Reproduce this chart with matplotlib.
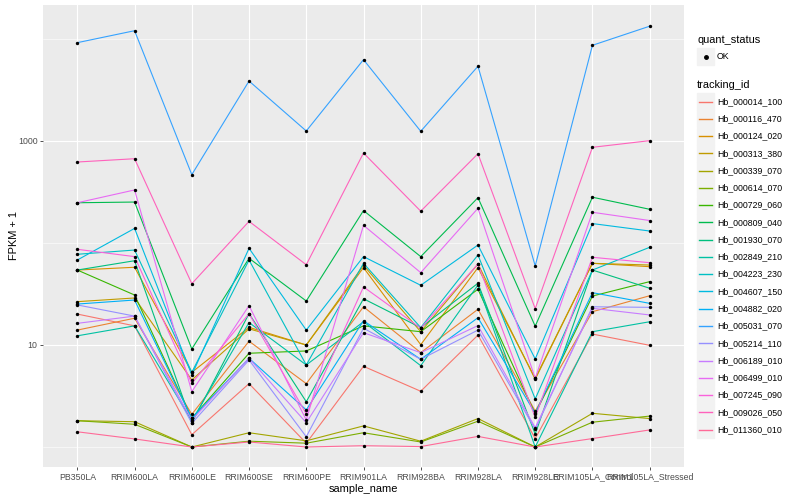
import numpy as np
import matplotlib
matplotlib.use('Agg')
import matplotlib.pyplot as plt
from matplotlib.patches import Rectangle
from matplotlib.lines import Line2D
from matplotlib.ticker import FixedLocator, NullFormatter


# sample names along the x axis
samples = ['PB350LA', 'RRIM600LA', 'RRIM600LE', 'RRIM600SE', 'RRIM600PE',
           'RRIM901LA', 'RRIM928BA', 'RRIM928LA', 'RRIM928LE',
           'RRIM105LA_Control', 'RRIM105LA_Stressed']

tracking_ids = ['Hb_000014_100', 'Hb_000116_470', 'Hb_000124_020',
                'Hb_000313_380', 'Hb_000339_070', 'Hb_000614_070',
                'Hb_000729_060', 'Hb_000809_040', 'Hb_001930_070',
                'Hb_002849_210', 'Hb_004223_230', 'Hb_004607_150',
                'Hb_004882_020', 'Hb_005031_070', 'Hb_005214_110',
                'Hb_006189_010', 'Hb_006499_010', 'Hb_007245_090',
                'Hb_009026_050', 'Hb_011360_010']

# FPKM + 1 (one list per gene, same order as samples)
hb_000014_100 = [20.1, 15.4, 1.32, 4.18, 1.09, 6.18, 3.52, 12.5, 1.21, 12.8, 9.93]
hb_000116_470 = [14.0, 18.3, 2.09, 10.9, 4.18, 23.7, 8.41, 22.4, 2.25, 21.2, 30.4]
hb_000124_020 = [54.3, 57.8, 5.40, 14.9, 10.0, 57.3, 10.07, 57.3, 4.72, 63.2, 58.6]
hb_000313_380 = [26.6, 28.9, 4.54, 14.4, 10.0, 60.4, 13.5, 62.2, 4.61, 63.2, 60.8]
hb_000339_070 = [1.81, 1.77, 1.0, 1.38, 1.15, 1.61, 1.14, 1.90, 1.0, 2.14, 1.90]
hb_000614_070 = [1.81, 1.67, 1.0, 1.14, 1.09, 1.38, 1.12, 1.79, 1.0, 1.75, 2.01]
hb_000729_060 = [54.3, 30.9, 1.91, 8.30, 8.74, 15.4, 13.5, 35.2, 2.11, 30.2, 41.8]
hb_000809_040 = [248, 252, 9.14, 70.8, 27.0, 208, 73.5, 278, 15.3, 281, 214]
hb_001930_070 = [54.3, 67.0, 1.72, 20.3, 2.78, 28.4, 14.8, 40.3, 1.34, 54.3, 36.0]
hb_002849_210 = [12.3, 15.4, 1.81, 16.6, 6.37, 16.9, 6.27, 38.7, 1.0, 13.5, 16.9]
hb_004223_230 = [77.5, 85.3, 5.40, 68.1, 6.37, 63.2, 14.8, 76.3, 2.96, 54.3, 90.7]
hb_004607_150 = [68.1, 139, 5.08, 88.7, 14.0, 73.5, 38.5, 95.5, 7.29, 155, 131]
hb_004882_020 = [25.2, 27.6, 1.91, 7.41, 2.31, 17.3, 7.24, 18.5, 2.14, 32.6, 25.6]
hb_005031_070 = [9200, 12050, 468, 3870, 1253, 6270, 1245, 5400, 59.6, 8670, 13340]
hb_005214_110 = [24.7, 19.2, 1.71, 7.13, 1.26, 14.6, 7.24, 14.0, 1.49, 23.7, 23.4]
hb_006189_010 = [16.3, 19.2, 1.84, 7.41, 1.73, 13.2, 8.41, 15.5, 1.55, 22.9, 19.7]
hb_006499_010 = [248, 331, 3.49, 24.3, 1.84, 149, 51.2, 219, 4.72, 200, 166]
hb_007245_090 = [86.7, 73.5, 4.21, 20.3, 2.11, 37.1, 14.6, 62.2, 1.95, 72.4, 64.1]
hb_009026_050 = [622, 670, 39.9, 163, 61.2, 762, 205, 750, 22.7, 867, 1007]
hb_011360_010 = [1.41, 1.20, 1.0, 1.12, 1.0, 1.03, 1.01, 1.27, 1.0, 1.21, 1.47]

fpkm = [hb_000014_100, hb_000116_470, hb_000124_020, hb_000313_380,
        hb_000339_070, hb_000614_070, hb_000729_060, hb_000809_040,
        hb_001930_070, hb_002849_210, hb_004223_230, hb_004607_150,
        hb_004882_020, hb_005031_070, hb_005214_110, hb_006189_010,
        hb_006499_010, hb_007245_090, hb_009026_050, hb_011360_010]


def hue_pal(n, c=100, l=65):
    '''
    ggplot style hue palette, polar LUV -> sRGB
    '''
    hues = np.linspace(15, 375, n + 1)[:n]
    xn, yn, zn = 95.047, 100.0, 108.883
    un = 4 * xn / (xn + 15 * yn + 3 * zn)
    vn = 9 * yn / (xn + 15 * yn + 3 * zn)
    m = np.array([[3.240479, -1.537150, -0.498535],
                  [-0.969256, 1.875992, 0.041556],
                  [0.055648, -0.204043, 1.057311]])
    out = []
    for h in hues:
        u_ = c * np.cos(np.radians(h))
        v_ = c * np.sin(np.radians(h))
        y = yn * ((l + 16) / 116) ** 3
        u = u_ / (13 * l) + un
        v = v_ / (13 * l) + vn
        x = 9 * y * u / (4 * v)
        z = -x / 3 - 5 * y + 3 * y / v
        rgb = m @ (np.array([x, y, z]) / 100)
        rgb = np.where(rgb > 0.0031308,
                       1.055 * np.abs(rgb) ** (1 / 2.4) - 0.055, 12.92 * rgb)
        out.append(tuple(np.clip(rgb, 0, 1)))
    return out


colors = hue_pal(len(tracking_ids))

plt.rcParams['font.family'] = ['Liberation Sans', 'DejaVu Sans']

W, H = 800, 500
fig = plt.figure(figsize=(8, 5), dpi=100)
ax = fig.add_axes([43 / W, 1 - 467 / H, (684 - 43) / W, (467 - 5) / H])
ax.set_facecolor('#EBEBEB')
for s in ax.spines.values():
    s.set_visible(False)

x = np.arange(len(samples))
for vals, col in zip(fpkm, colors):
    ax.plot(x, vals, color=col, lw=0.8, zorder=3)
for vals in fpkm:
    ax.scatter(x, vals, s=6, color='black', zorder=4, linewidths=0)

ax.set_yscale('log')
ax.set_ylim(10 ** -0.196, 10 ** 4.333)
ax.set_xlim(-0.6, len(samples) - 0.4)

ax.set_xticks(x)
ax.set_xticklabels(samples)
ax.yaxis.set_major_locator(FixedLocator([10, 1000]))
ax.yaxis.set_major_formatter(plt.FixedFormatter(['10', '1000']))
ax.yaxis.set_minor_locator(FixedLocator([1, 100, 10000]))
ax.yaxis.set_minor_formatter(NullFormatter())
ax.tick_params(which='major', length=2.5, width=0.6, color='#333333',
               labelsize=6.3, labelcolor='#4D4D4D', pad=1.5)
ax.tick_params(which='minor', length=0)

ax.grid(which='major', color='white', lw=0.8, zorder=0)
ax.yaxis.grid(which='minor', color='white', lw=0.4, zorder=0)
ax.set_axisbelow(True)

ax.set_xlabel('sample_name', fontsize=7.9, labelpad=2)
ax.set_ylabel('FPKM + 1', fontsize=7.9, labelpad=-0.5)

# legend drawn by hand, ggplot look
fx = lambda px: px / W
fy = lambda py: 1 - py / H
fig.text(fx(697), fy(40), 'quant_status', fontsize=7.9, va='center')
fig.patches.append(Rectangle((fx(697), fy(65)), 17 / W, 17 / H,
                             transform=fig.transFigure, color='#F2F2F2',
                             zorder=1))
fig.lines.append(Line2D([fx(705.5)], [fy(56.5)], marker='o', ms=2.5,
                        color='black', transform=fig.transFigure, zorder=5))
fig.text(fx(717), fy(56.5), 'OK', fontsize=6.3, va='center')

fig.text(fx(697), fy(85), 'tracking_id', fontsize=7.9, va='center')
for i, (tid, col) in enumerate(zip(tracking_ids, colors)):
    cy = 101.5 + i * 17.27
    fig.patches.append(Rectangle((fx(697), fy(cy + 8.5)), 17 / W, 17 / H,
                                 transform=fig.transFigure, color='#F2F2F2',
                                 zorder=1))
    fig.lines.append(Line2D([fx(699), fx(712)], [fy(cy), fy(cy)], color=col,
                            lw=1.0, transform=fig.transFigure, zorder=5))
    fig.text(fx(717), fy(cy), tid, fontsize=6.3, va='center')

fig.savefig('out.png', dpi=100)
